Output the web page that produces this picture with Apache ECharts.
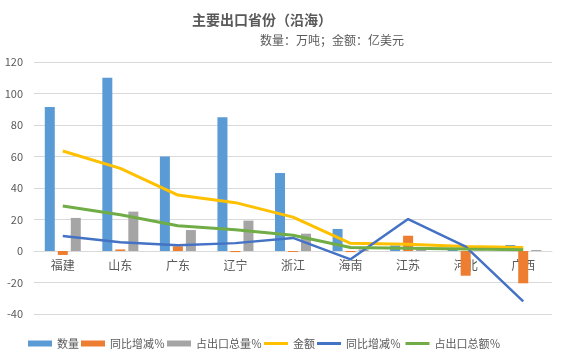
<!DOCTYPE html>
<html><head><meta charset="utf-8">
<script src="https://cdn.jsdelivr.net/npm/echarts@6/dist/echarts.min.js"></script>
<style>html,body{margin:0;padding:0;background:#fff}#c{width:563px;height:357px}</style>
</head><body><div id="c"></div>
<script>
const categories = ['福建','山东','广东','辽宁','浙江','海南','江苏','河北','广西'];
const qty = [91.5, 110, 60, 85, 49.5, 14, 3.5, 0.8, 3.8];
const qtyYoY = [-2.5, 1, 3, -0.7, -0.6, -0.7, 9.7, -15.7, -20.5];
const qtyShare = [21, 25, 13.3, 19.3, 11, 1, 1.2, 0.3, 0.6];
const amount = [63.5, 52.5, 35.5, 30.7, 21.5, 4.9, 4.3, 2.8, 2.3];
const amountYoY = [9.5, 5.5, 3.6, 5, 8.3, -5.3, 20.3, 2.8, -32];
const amountShare = [28.6, 23, 16, 13.5, 10, 2.2, 1.8, 1.2, 0.8];
const yTicks = {min: -40, max: 120, interval: 20};
const names = ['数量', '同比增减％', '占出口总量％', '金额', '同比增减％ ', '占出口总额％'];

const txt = '#595959';
const font = '"Noto Sans CJK SC", "Microsoft YaHei", sans-serif';
const lineIcon = 'path://M0,0h8v1h-8z';
const chart = echarts.init(document.getElementById('c'));
chart.setOption({
  animation: false,
  textStyle: {fontFamily: font},
  title: [
    {text: '主要出口省份（沿海）', left: 187, top: 8, textStyle: {fontSize: 14, fontWeight: 'bold', color: txt, fontFamily: font}},
    {text: '数量：万吨；金额：亿美元', left: 255, top: 29, textStyle: {fontSize: 12, fontWeight: 'normal', color: txt, fontFamily: font}}
  ],
  legend: {
    left: 23, top: 333, itemWidth: 24, itemHeight: 6, itemGap: 2, symbolKeepAspect: true,
    textStyle: {fontSize: 11, color: txt, fontFamily: font},
    data: [
      {name: names[0], icon: 'rect'},
      {name: names[1], icon: 'rect'},
      {name: names[2], icon: 'rect'},
      {name: names[3], icon: lineIcon},
      {name: names[4], icon: lineIcon},
      {name: names[5], icon: lineIcon}
    ]
  },
  grid: {left: 34, right: 11, top: 62, bottom: 43},
  xAxis: {
    type: 'category', data: categories, offset: -63,
    axisLine: {onZero: false, lineStyle: {color: '#d9d9d9'}},
    axisTick: {show: false},
    axisLabel: {color: txt, fontSize: 12, margin: 8, fontFamily: font}
  },
  yAxis: {
    type: 'value', min: yTicks.min, max: yTicks.max, interval: yTicks.interval,
    axisLine: {show: false}, axisTick: {show: false},
    axisLabel: {color: txt, fontSize: 11, margin: 11},
    splitLine: {lineStyle: {color: '#d9d9d9'}}
  },
  series: [
    {name: names[0], type: 'bar', data: qty, barWidth: 10, barGap: '30%', itemStyle: {color: '#5b9bd5'}},
    {name: names[1], type: 'bar', data: qtyYoY, barWidth: 10, barGap: '30%', itemStyle: {color: '#ed7d31'}},
    {name: names[2], type: 'bar', data: qtyShare, barWidth: 10, barGap: '30%', itemStyle: {color: '#a5a5a5'}},
    {name: names[3], type: 'line', data: amount, symbol: 'none', lineStyle: {color: '#ffc000', width: 3}, itemStyle: {color: '#ffc000'}},
    {name: names[4], type: 'line', data: amountYoY, symbol: 'none', lineStyle: {color: '#4472c4', width: 2.5}, itemStyle: {color: '#4472c4'}},
    {name: names[5], type: 'line', data: amountShare, symbol: 'none', lineStyle: {color: '#70ad47', width: 3}, itemStyle: {color: '#70ad47'}}
  ]
});
</script></body></html>
